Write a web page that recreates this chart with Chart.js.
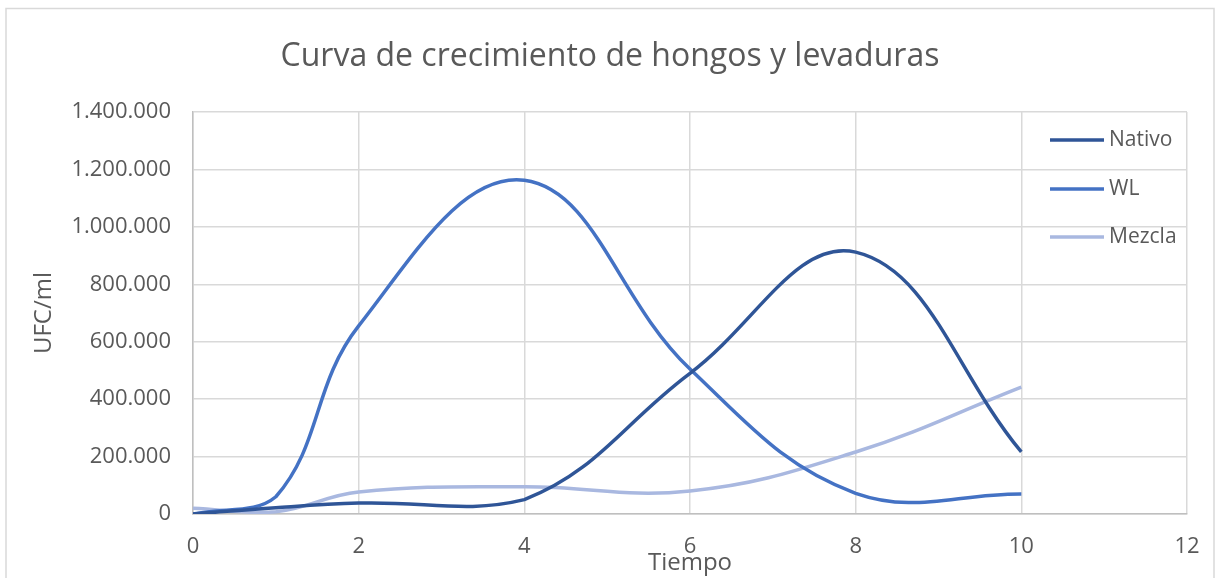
<!DOCTYPE html>
<html>
<head>
<meta charset="utf-8">
<script src="https://cdn.jsdelivr.net/npm/chart.js@4/dist/chart.umd.min.js"></script>
<style>
  body { margin: 0; background: #fff; }
  #wrap { width: 1216px; height: 578px; position: relative; }
</style>
</head>
<body>
<div id="wrap"><canvas id="growthChart" width="1216" height="578"></canvas></div>
<script>
// tiempo (x) y UFC/ml de cada serie
const tiempo = [0, 1, 2, 4, 6, 8, 10];
const nativo = [0, 22000, 38000, 50000, 490000, 912000, 216000];
const wl = [0, 60000, 655000, 1162000, 505000, 72000, 70000];
const mezcla = [20000, 8000, 77000, 95000, 80000, 216000, 442000];

const seriesNames = ['Nativo', 'WL', 'Mezcla'];
const seriesColors = ['#2F5597', '#4472C4', '#A9B8E0'];
const xTicks = [0, 2, 4, 6, 8, 10, 12];
const yTicks = [0, 200000, 400000, 600000, 800000, 1000000, 1200000, 1400000];

const fontFam = "'Open Sans', 'Noto Sans', sans-serif";
const textColor = '#595959';

const toPoints = (vals) => vals.map((v, i) => ({ x: tiempo[i], y: v }));

// numero con punto de miles
const fmt = (v) => String(v).replace(/\B(?=(\d{3})+(?!\d))/g, '.');

// marco, titulo y leyenda dibujados a mano
const decoPlugin = {
  id: 'deco',
  beforeDraw(chart) {
    const ctx = chart.ctx;
    ctx.save();
    ctx.fillStyle = '#fff';
    ctx.fillRect(0, 0, chart.width, chart.height);
    ctx.strokeStyle = '#d9d9d9';
    ctx.lineWidth = 1.5;
    ctx.strokeRect(6, 8.5, 1208, 600);
    ctx.restore();
  },
  afterDraw(chart) {
    const ctx = chart.ctx;
    ctx.save();
    ctx.fillStyle = textColor;
    ctx.font = "32px " + fontFam;
    ctx.textAlign = 'center';
    ctx.textBaseline = 'alphabetic';
    ctx.fillText('Curva de crecimiento de hongos y levaduras', 610, 66);

    ctx.font = "21px " + fontFam;
    ctx.textAlign = 'left';
    ctx.textBaseline = 'middle';
    const rows = [140, 189, 237];
    seriesNames.forEach((name, i) => {
      ctx.strokeStyle = seriesColors[i];
      ctx.lineWidth = 3.5;
      ctx.beginPath();
      ctx.moveTo(1050, rows[i]);
      ctx.lineTo(1104, rows[i]);
      ctx.stroke();
      ctx.fillStyle = textColor;
      ctx.fillText(name, 1109, rows[i]);
    });
    ctx.restore();
  }
};

const datasets = [nativo, wl, mezcla].map((vals, i) => ({
  label: seriesNames[i],
  data: toPoints(vals),
  borderColor: seriesColors[i],
  backgroundColor: seriesColors[i],
  borderWidth: 3.5,
  showLine: true,
  pointRadius: 0,
  tension: 0.4,
  fill: false
}));

new Chart(document.getElementById('growthChart'), {
  type: 'scatter',
  data: { datasets: datasets },
  options: {
    responsive: false,
    animation: false,
    layout: { padding: { top: 112, right: 29, left: 0, bottom: 0 } },
    plugins: {
      legend: { display: false },
      title: { display: false },
      tooltip: { enabled: false }
    },
    scales: {
      x: {
        type: 'linear',
        min: 0,
        max: 12,
        afterBuildTicks: (axis) => { axis.ticks = xTicks.map(v => ({ value: v })); },
        afterFit: (axis) => { axis.height = 64; axis.paddingLeft = 0; axis.paddingRight = 0; },
        grid: { color: '#d9d9d9', lineWidth: 1.5, drawTicks: false },
        border: { color: '#bfbfbf', width: 1.5 },
        ticks: { color: textColor, font: { family: fontFam, size: 22 }, padding: 20 },
        title: {
          display: true, text: 'Tiempo', color: textColor,
          font: { family: fontFam, size: 24 }, padding: { top: 0, bottom: 0 }
        }
      },
      y: {
        min: 0,
        max: 1400000,
        afterBuildTicks: (axis) => { axis.ticks = yTicks.map(v => ({ value: v })); },
        afterFit: (axis) => { axis.width = 193; },
        grid: { color: '#d9d9d9', lineWidth: 1.5, drawTicks: false },
        border: { color: '#bfbfbf', width: 1.5 },
        ticks: {
          color: textColor, font: { family: fontFam, size: 22 }, padding: 22,
          callback: (v) => fmt(v)
        },
        title: {
          display: true, text: 'UFC/ml', color: textColor,
          font: { family: fontFam, size: 24 }, padding: { top: 30, bottom: 0 }
        }
      }
    }
  },
  plugins: [decoPlugin]
});
</script>
</body>
</html>
